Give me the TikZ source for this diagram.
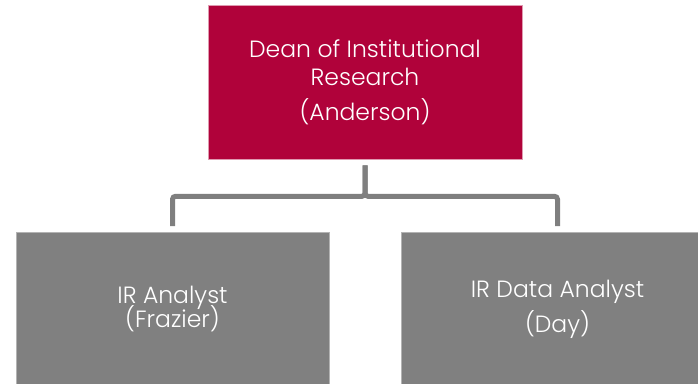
\documentclass[tikz,border=0pt]{standalone}
\usepackage{fontspec}
\setmainfont{Poppins}[UprightFont=* Light]
\definecolor{crimson}{RGB}{176,2,58}
\definecolor{boxgray}{RGB}{128,128,128}
\definecolor{linegray}{RGB}{127,127,127}
\tikzset{
  basebox/.style={rectangle, inner sep=0pt, text=white, align=center,
    font=\fontsize{23.5}{28}\selectfont},
  topbox/.style={basebox, fill=crimson, draw=crimson!40!white, line width=0.6pt,
    minimum width=314pt, minimum height=154pt},
  graybox/.style={basebox, fill=boxgray, draw=boxgray!60!white, line width=0.6pt,
    minimum width=313pt, minimum height=153pt},
  conn/.style={draw=linegray, line width=5pt, rounded corners=3pt,
    shorten <=6pt, shorten >=6pt}
}
\begin{document}
\begin{tikzpicture}[x=1pt,y=-1pt]
\useasboundingbox (0,0) rectangle (698,383);
\clip (0,0) rectangle (698,383);
\node[topbox] (dean) at (365,82) {Dean of Institutional\\Research\\[7pt](Anderson)};
\node[graybox] (frazier) at (172.5,309) {IR Analyst\\[-4pt](Frazier)};
\node[graybox] (day) at (557.5,309) {IR Data Analyst\\[7pt](Day)};
\draw[conn] (dean.south) -- ++(0,37) -| (frazier.north);
\draw[conn] (dean.south) -- ++(0,37) -| (day.north);
\end{tikzpicture}
\end{document}
